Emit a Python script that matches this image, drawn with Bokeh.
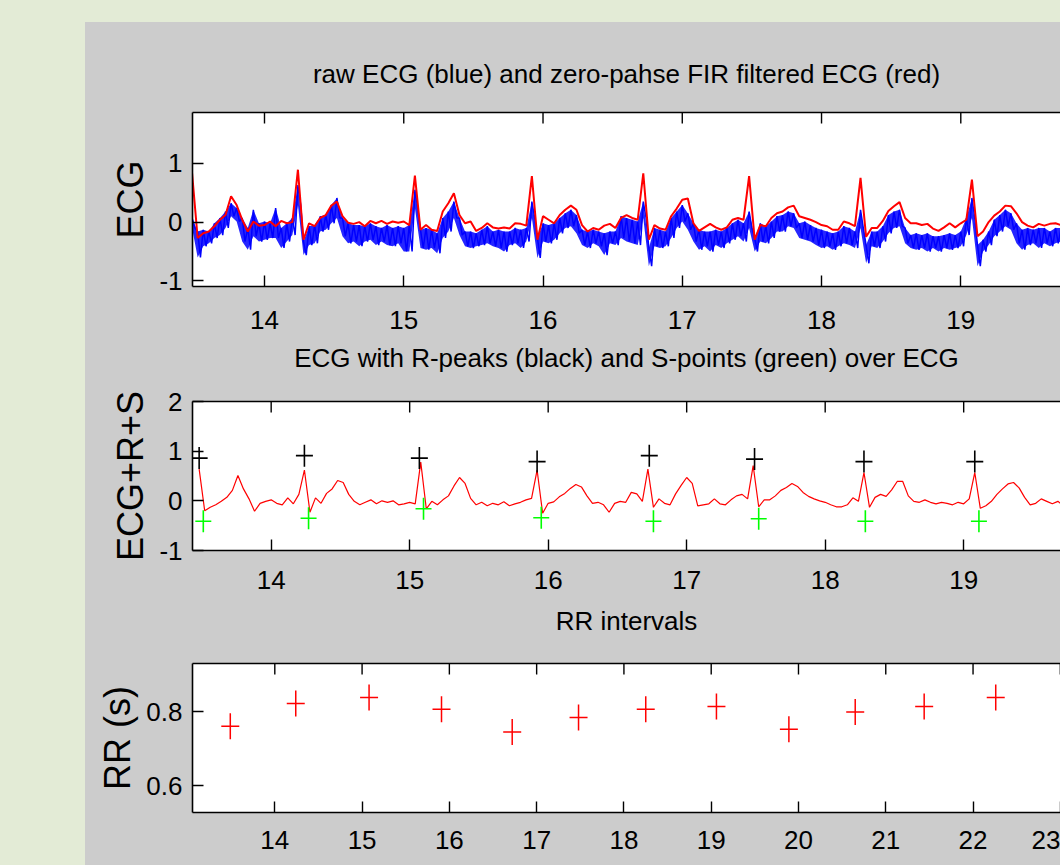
import numpy as np
from bokeh.plotting import figure
from bokeh.models import FixedTicker, LinearAxis, Range1d, Spacer
from bokeh.core.properties import value
from bokeh.layouts import column, row
from bokeh.embed import file_html
from bokeh.resources import INLINE

# ---------------- data ----------------
T_START = 13.48   # first sample time (s)
T_STEP = 0.04     # sampling step of the traces as read (s)

# zero-phase FIR filtered ECG (red, top panel)
ecg_filtered = [
    0.83, -0.27, -0.19, -0.16, -0.07, 0.04, 0.12, 0.44, 0.29, 0.04,
    -0.16, 0.01, -0.06, -0.05, 0.01, -0.07, 0.02, -0.02, 0.00, 0.89,
    -0.30, -0.02, -0.07, 0.07, 0.12, 0.28, 0.35, 0.10, -0.01, -0.03,
    0.00, -0.07, 0.02, -0.02, 0.02, -0.03, 0.01, -0.01, 0.01,
    -0.05, 0.79, -0.13, -0.05, -0.13, -0.15, 0.18, 0.32, 0.49, 0.12,
    -0.02, 0.01, -0.15, -0.10, -0.02, -0.09, -0.11, -0.09, -0.11, -0.02,
    -0.03, -0.06, 0.78, -0.30, 0.10, 0.04, -0.02, 0.12, 0.21, 0.28,
    0.21, -0.05, -0.16, -0.10, -0.13, -0.06, -0.03, -0.10, 0.07,
    0.12, 0.07, 0.04, 0.83, -0.30, -0.05, -0.11, -0.13, 0.10, 0.23,
    0.38, 0.40, -0.02, -0.15, -0.09, -0.03, -0.09, -0.13, -0.09, 0.04,
    0.07, 0.04, 0.78, -0.30, -0.05, -0.07, 0.07, 0.15, 0.18, 0.25,
    0.28, 0.10, 0.07, 0.04, 0.00, -0.05, -0.07, -0.13, -0.13,
    0.01, -0.02, -0.07, 0.75, -0.25, -0.10, -0.10, 0.02, 0.19, 0.27,
    0.34, 0.07, -0.02, -0.02, -0.05, -0.03, -0.11, -0.15, -0.09, -0.02,
    -0.09, -0.02, 0.04, 0.72, -0.24, -0.16, 0.00, 0.11, 0.18, 0.28,
    0.27, 0.15, 0.00, -0.06, -0.09, -0.03, -0.06, -0.03, -0.02, -0.05,
]

# raw ECG (blue, top panel): upper and lower edge of the noisy trace
ecg_raw_high = [
    0.07, -0.16, -0.13, -0.16, -0.02, 0.07, 0.18, 0.32, 0.24, 0.07,
    -0.10, 0.21, -0.02, 0.01, -0.02, 0.24, -0.10, -0.02, 0.07, 0.63,
    -0.33, -0.07, -0.05, 0.10, 0.12, 0.29, 0.41, 0.07, -0.02, -0.05,
    -0.05, -0.07, -0.02, -0.07, -0.10, -0.05, -0.10, -0.07, -0.10,
    -0.05, 0.55, -0.13, -0.10, -0.13, -0.19, 0.07, 0.18, 0.35, 0.07,
    -0.16, -0.16, -0.19, -0.13, -0.07, -0.16, -0.13, -0.16, -0.16, -0.10,
    -0.13, -0.10, 0.35, -0.27, -0.02, -0.05, -0.02, 0.07, 0.15, 0.21,
    0.12, -0.13, -0.16, -0.13, -0.16, -0.19, -0.16, -0.16, 0.10,
    0.07, 0.04, 0.01, 0.35, -0.44, -0.10, -0.13, -0.16, 0.07, 0.18,
    0.29, 0.15, -0.02, -0.13, -0.16, -0.16, -0.13, -0.16, -0.10, -0.02,
    0.04, -0.02, 0.18, -0.27, -0.02, -0.07, 0.01, 0.10, 0.12, 0.18,
    0.15, -0.02, 0.01, -0.05, -0.10, -0.13, -0.16, -0.19, -0.16,
    -0.07, -0.10, -0.16, 0.21, -0.39, -0.16, -0.16, -0.07, 0.12, 0.18,
    0.21, -0.10, -0.22, -0.19, -0.22, -0.19, -0.24, -0.24, -0.22, -0.19,
    -0.22, -0.16, 0.07, 0.41, -0.39, -0.30, -0.16, 0.04, 0.12, 0.21,
    0.15, -0.02, -0.13, -0.10, -0.13, -0.10, -0.10, -0.16, -0.10, -0.10,
]
ecg_raw_low = [
    -0.10, -0.60, -0.41, -0.36, -0.27, -0.22, -0.10, 0.10, 0.01, -0.33,
    -0.47, -0.24, -0.33, -0.30, -0.27, -0.27, -0.44, -0.33, -0.22, 0.29,
    -0.56, -0.39, -0.36, -0.16, -0.13, -0.02, 0.07, -0.24, -0.36, -0.33,
    -0.41, -0.33, -0.30, -0.39, -0.33, -0.39, -0.41, -0.36, -0.50,
    -0.50, 0.24, -0.44, -0.47, -0.44, -0.53, -0.27, -0.16, 0.07, -0.22,
    -0.41, -0.44, -0.41, -0.39, -0.36, -0.41, -0.44, -0.50, -0.39, -0.36,
    -0.44, -0.33, 0.07, -0.61, -0.33, -0.36, -0.30, -0.19, -0.10, -0.07,
    -0.19, -0.39, -0.44, -0.36, -0.41, -0.56, -0.36, -0.39, -0.27,
    -0.33, -0.36, -0.39, 0.07, -0.75, -0.41, -0.44, -0.41, -0.27, -0.10,
    0.01, -0.13, -0.33, -0.47, -0.41, -0.50, -0.39, -0.44, -0.36, -0.30,
    -0.24, -0.33, -0.10, -0.50, -0.33, -0.36, -0.27, -0.16, -0.16, -0.07,
    -0.10, -0.27, -0.30, -0.33, -0.39, -0.44, -0.41, -0.47, -0.41,
    -0.36, -0.39, -0.44, -0.10, -0.70, -0.41, -0.44, -0.33, -0.19, -0.10,
    -0.07, -0.36, -0.44, -0.47, -0.44, -0.50, -0.44, -0.50, -0.44, -0.47,
    -0.44, -0.41, -0.22, 0.07, -0.75, -0.50, -0.39, -0.24, -0.16, -0.07,
    -0.13, -0.36, -0.47, -0.39, -0.36, -0.44, -0.36, -0.41, -0.36, -0.33,
]

# ECG shown in the middle panel (red)
ecg_middle = [
    0.64, -0.20, -0.13, -0.08, -0.01, 0.07, 0.21, 0.51, 0.24, 0.04,
    -0.21, -0.05, -0.01, 0.02, -0.05, -0.08, 0.06, -0.06, 0.13, 0.62,
    -0.23, 0.06, -0.05, 0.15, 0.24, 0.41, 0.37, 0.13, -0.01, -0.08,
    -0.03, 0.02, -0.06, 0.00, -0.03, 0.00, -0.08, -0.06, -0.03, -0.06,
    0.78, -0.16, -0.01, -0.08, 0.02, 0.10,
    0.30, 0.47, 0.35, 0.05, -0.08, -0.03, -0.10, -0.05, -0.08, -0.02,
    -0.10, -0.06, -0.03, 0.02, 0.05, 0.62, -0.25, -0.05, -0.02, 0.08,
    0.15, 0.25, 0.33, 0.28, 0.10, -0.05, -0.03,
    -0.08, -0.23, -0.05, -0.01, -0.03, 0.17, 0.14, -0.01, 0.64, -0.13,
    0.04, -0.05, -0.08, 0.14, 0.31, 0.47, 0.35, -0.10, -0.08, -0.06,
    0.04, -0.06, -0.08, 0.02, 0.10, 0.13, 0.04, 0.71, -0.12, 0.02,
    0.02, 0.10, 0.21, 0.27, 0.35, 0.29, 0.17, 0.09, 0.04, 0.00,
    -0.03, -0.08, -0.12, -0.12, -0.08, 0.06, -0.01, 0.57, -0.13, 0.07,
    0.13, 0.09, 0.22, 0.39, 0.39, 0.10, -0.01, -0.03, 0.02, -0.03,
    -0.06, -0.03, -0.05, -0.08, -0.03, -0.06, 0.04, 0.57, -0.15, -0.10,
    -0.01, 0.13, 0.24, 0.34, 0.37, 0.26, 0.07, -0.08, -0.05, 0.04,
    -0.01, -0.06, -0.01, -0.10,
]

# R-peaks (black +) and S-points (green +)
r_time = [13.48, 14.24, 15.07, 15.92, 16.73, 17.49, 18.28, 19.08]
r_amp = [0.86, 0.91, 0.86, 0.79, 0.91, 0.84, 0.79, 0.79]
s_time = [13.51, 14.27, 15.10, 15.95, 16.76, 17.52, 18.29, 19.11]
s_amp = [-0.41, -0.35, -0.16, -0.34, -0.41, -0.36, -0.41, -0.41]

# RR intervals
rr_time = [13.49, 14.24, 15.08, 15.91, 16.72, 17.48, 18.25, 19.06, 19.89, 20.65, 21.44, 22.26]
rr_sec = [0.761, 0.823, 0.839, 0.807, 0.746, 0.785, 0.807, 0.815, 0.753, 0.800, 0.815, 0.839]

ecg_ticks_x = [14, 15, 16, 17, 18, 19]
rr_ticks_x = [14, 15, 16, 17, 18, 19, 20, 21, 22, 23]

titles = [
    "raw ECG (blue) and zero-pahse FIR filtered ECG (red)",
    "ECG with R-peaks (black) and S-points (green) over ECG",
    "RR intervals",
]
ylabels = ["ECG", "ECG+R+S", "RR (s)"]

# ---------------- styling ----------------
GRAY = "#cccccc"
GREEN_BG = "#e3ebd6"
SANS = "Liberation Sans"
TICK_PX = 11
FRAME_W = 868
LEFT_PX = 107


def title_fig(text, band_h, text_y):
    # gray strip aligned with the axes boxes; the title is centred over the box
    f = figure(frame_width=FRAME_W, frame_height=band_h,
               x_range=Range1d(0, FRAME_W), y_range=Range1d(0, band_h),
               output_backend="svg", toolbar_location=None,
               x_axis_location=None, y_axis_location=None,
               min_border_left=LEFT_PX, min_border_right=0,
               min_border_top=0, min_border_bottom=0,
               background_fill_color=GRAY, border_fill_color=GRAY,
               outline_line_color=None)
    f.grid.visible = False
    f.text(x=[FRAME_W / 2], y=[text_y], text=[text],
           text_align="center", text_baseline="middle",
           text_font=value(SANS), text_font_size=value("26px"),
           text_color="black")
    return f


def make_fig(xr, yr, frame_h, top, bottom, xticks, yticks, ylabel, lab_standoff):
    p = figure(frame_width=FRAME_W, frame_height=frame_h,
               x_range=Range1d(*xr), y_range=Range1d(*yr),
               output_backend="svg", toolbar_location=None,
               min_border_left=LEFT_PX, min_border_right=0,
               min_border_top=top, min_border_bottom=bottom,
               background_fill_color="white", border_fill_color=GRAY,
               outline_line_color=None)
    p.grid.visible = False
    for ax in (p.xaxis[0], p.yaxis[0]):
        ax.major_tick_in = TICK_PX
        ax.major_tick_out = 0
        ax.minor_tick_in = 0
        ax.minor_tick_out = 0
        ax.axis_line_width = 1.6
        ax.axis_line_color = "black"
        ax.major_tick_line_width = 1.4
        ax.major_tick_line_color = "black"
        ax.major_label_text_font = SANS
        ax.major_label_text_font_size = "26px"
        ax.major_label_text_color = "black"
    p.xaxis[0].ticker = FixedTicker(ticks=xticks)
    p.xaxis[0].major_label_standoff = lab_standoff
    p.yaxis[0].ticker = FixedTicker(ticks=yticks)
    p.yaxis[0].major_label_standoff = 10
    p.yaxis[0].major_label_overrides = {v: ("-" + str(abs(v)) if v < 0 else str(v)) for v in yticks}
    p.yaxis[0].axis_label = ylabel
    p.yaxis[0].axis_label_text_font = SANS
    p.yaxis[0].axis_label_text_font_size = "36px"
    p.yaxis[0].axis_label_text_font_style = "normal"
    p.yaxis[0].axis_label_text_color = "black"
    p.yaxis[0].axis_label_standoff = 5
    # top border line (no ticks/labels on the axis itself)
    top_ax = LinearAxis(ticker=FixedTicker(ticks=[]), axis_line_width=1.6,
                        major_tick_in=0, major_tick_out=0,
                        minor_tick_in=0, minor_tick_out=0)
    p.add_layout(top_ax, "above")
    # inward ticks along the top edge
    tick_len = (yr[1] - yr[0]) * TICK_PX / frame_h
    p.segment(x0=xticks, y0=[yr[1]] * len(xticks), x1=xticks,
              y1=[yr[1] - tick_len] * len(xticks),
              line_color="black", line_width=1.4)
    return p


t = T_START + T_STEP * np.arange(len(ecg_filtered))
t_mid = T_START + T_STEP * np.arange(len(ecg_middle))

X1 = (13.483, 19.716)
X2 = (13.432, 19.699)
X3 = (13.057, 23.002)

# panel 1
t1 = title_fig(titles[0], 70, 19)
p1 = make_fig(X1, (-1.094, 1.862), 174, 20, 54,
              ecg_ticks_x, [-1, 0, 1], ylabels[0], 24)
raw_t = np.empty(2 * len(t))
raw_v = np.empty(2 * len(t))
raw_t[0::2] = t
raw_t[1::2] = t + T_STEP / 2
raw_v[0::2] = ecg_raw_high
raw_v[1::2] = ecg_raw_low
p1.varea(x=t, y1=ecg_raw_low, y2=ecg_raw_high, fill_color="#0000ff", fill_alpha=0.85)
p1.line(raw_t, raw_v, line_color="#0000ff", line_width=1.5)
p1.line(t, ecg_filtered, line_color="#ff0000", line_width=2)

# panel 2
t2 = title_fig(titles[1], 38, 21)
p2 = make_fig(X2, (-1.0, 2.0), 149, 23, 50,
              ecg_ticks_x, [-1, 0, 1, 2], ylabels[1], 20)
p2.line(t_mid, ecg_middle, line_color="#ff0000", line_width=1.2)
for xs, ys, col, w, h in ((r_time, r_amp, "black", 17, 22), (s_time, s_amp, "#00ff00", 16, 22)):
    p2.scatter(xs, ys, marker="dash", size=w, line_color=col, line_width=1.6)
    p2.scatter(xs, ys, marker="dash", size=h, angle=np.pi / 2, line_color=col, line_width=1.6)

# panel 3
t3 = title_fig(titles[2], 40, 20)
p3 = make_fig(X3, (0.528, 0.931), 149, 23, 53,
              rr_ticks_x, [0.6, 0.8], ylabels[2], 18)
p3.scatter(rr_time, rr_sec, marker="dash", size=18, line_color="#ff0000", line_width=1.5)
p3.scatter(rr_time, rr_sec, marker="dash", size=26, angle=np.pi / 2, line_color="#ff0000", line_width=1.5)

top_sp = Spacer(width=1060, height=22, styles={"background-color": GREEN_BG})
left_sp = Spacer(width=85, height=843, styles={"background-color": GREEN_BG})
plots = column(t1, p1, t2, p2, t3, p3, spacing=0, styles={"background-color": GRAY})
layout = column(top_sp, row(left_sp, plots, spacing=0), spacing=0,
                styles={"background-color": GREEN_BG})

open("out.html", "w").write(file_html(layout, INLINE))
